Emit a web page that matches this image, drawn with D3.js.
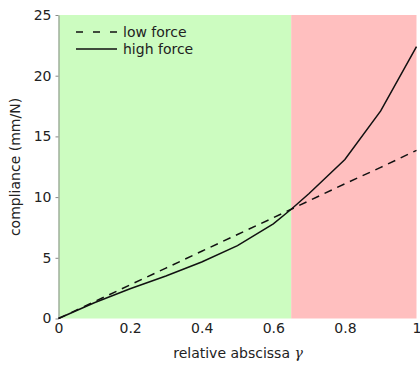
<!DOCTYPE html>
<html><head><meta charset="utf-8">
<script src="https://cdn.jsdelivr.net/npm/d3@7"></script>
<style>body{margin:0;background:#fff}svg{display:block}text{font-family:"DejaVu Sans",sans-serif;fill:#222}</style>
</head><body><svg id="c" width="420" height="365"></svg>
<script>
const xs = [0, 0.1, 0.2, 0.3, 0.4, 0.5, 0.6, 0.65, 0.7, 0.8, 0.9, 1.0];
const lowForce  = [0, 1.38, 2.77, 4.15, 5.54, 6.92, 8.3, 9.0, 9.7, 11.1, 12.45, 13.85];
const highForce = [0, 1.3, 2.45, 3.5, 4.65, 6.0, 7.8, 9.0, 10.3, 13.1, 17.1, 22.4];
const regions = [{from: 0, to: 0.65, color: "#ccfcc0"}, {from: 0.65, to: 1, color: "#ffbfbf"}];
const xTicks = [0, 0.2, 0.4, 0.6, 0.8, 1];
const yTicks = [0, 5, 10, 15, 20, 25];
const seriesNames = ["low force", "high force"];

const svg = d3.select("#c");
const x = d3.scaleLinear().domain([0, 1]).range([58.5, 416.5]);
const y = d3.scaleLinear().domain([0, 25]).range([318.5, 15]);

svg.selectAll("rect.reg").data(regions).join("rect")
  .attr("x", d => x(d.from)).attr("width", d => x(d.to) - x(d.from))
  .attr("y", y(25)).attr("height", y(0) - y(25)).attr("fill", d => d.color);

const yAxis = svg.append("g").attr("transform", `translate(${x(0)},0)`)
  .call(d3.axisLeft(y).tickValues(yTicks).tickSize(3).tickSizeOuter(0).tickPadding(4));
yAxis.select(".domain").attr("stroke", "#888");
yAxis.selectAll(".tick line").attr("stroke", "#888");
yAxis.selectAll("text").style("font-size", "14px").style("font-family", "DejaVu Sans").attr("fill", "#222");

const xAxis = svg.append("g").attr("transform", `translate(0,${y(0)})`)
  .call(d3.axisBottom(x).tickValues(xTicks).tickFormat(d => d === 0 || d === 1 ? d3.format("d")(d) : d3.format(".1f")(d)).tickSize(0).tickPadding(5));
xAxis.select(".domain").remove();
xAxis.selectAll("text").style("font-size", "14px").style("font-family", "DejaVu Sans").attr("fill", "#222");

const line = d3.line().x((d, i) => x(xs[i])).y(d => y(d));
svg.append("path").datum(lowForce).attr("d", line).attr("fill", "none")
  .attr("stroke", "#111").attr("stroke-width", 1.5).attr("stroke-dasharray", "8,6");
svg.append("path").datum(highForce).attr("d", line).attr("fill", "none")
  .attr("stroke", "#111").attr("stroke-width", 1.5);

const leg = svg.append("g");
[0, 1].forEach(i => {
  const ly = 32 + i * 17;
  leg.append("line").attr("x1", 76).attr("x2", 117).attr("y1", ly).attr("y2", ly)
    .attr("stroke", "#111").attr("stroke-width", 1.5)
    .attr("stroke-dasharray", i === 0 ? "7,10" : null);
  leg.append("text").attr("x", 123).attr("y", ly).attr("dy", "0.35em")
    .style("font-size", "14px").text(seriesNames[i]);
});

svg.append("text").attr("x", 238).attr("y", 358).attr("text-anchor", "middle")
  .style("font-size", "14px")
  .html('relative abscissa <tspan font-family="DejaVu Serif" font-style="italic">γ</tspan>');
svg.append("text").attr("transform", "translate(20,167) rotate(-90)").attr("text-anchor", "middle")
  .style("font-size", "14px").text("compliance (mm/N)");
</script></body></html>
